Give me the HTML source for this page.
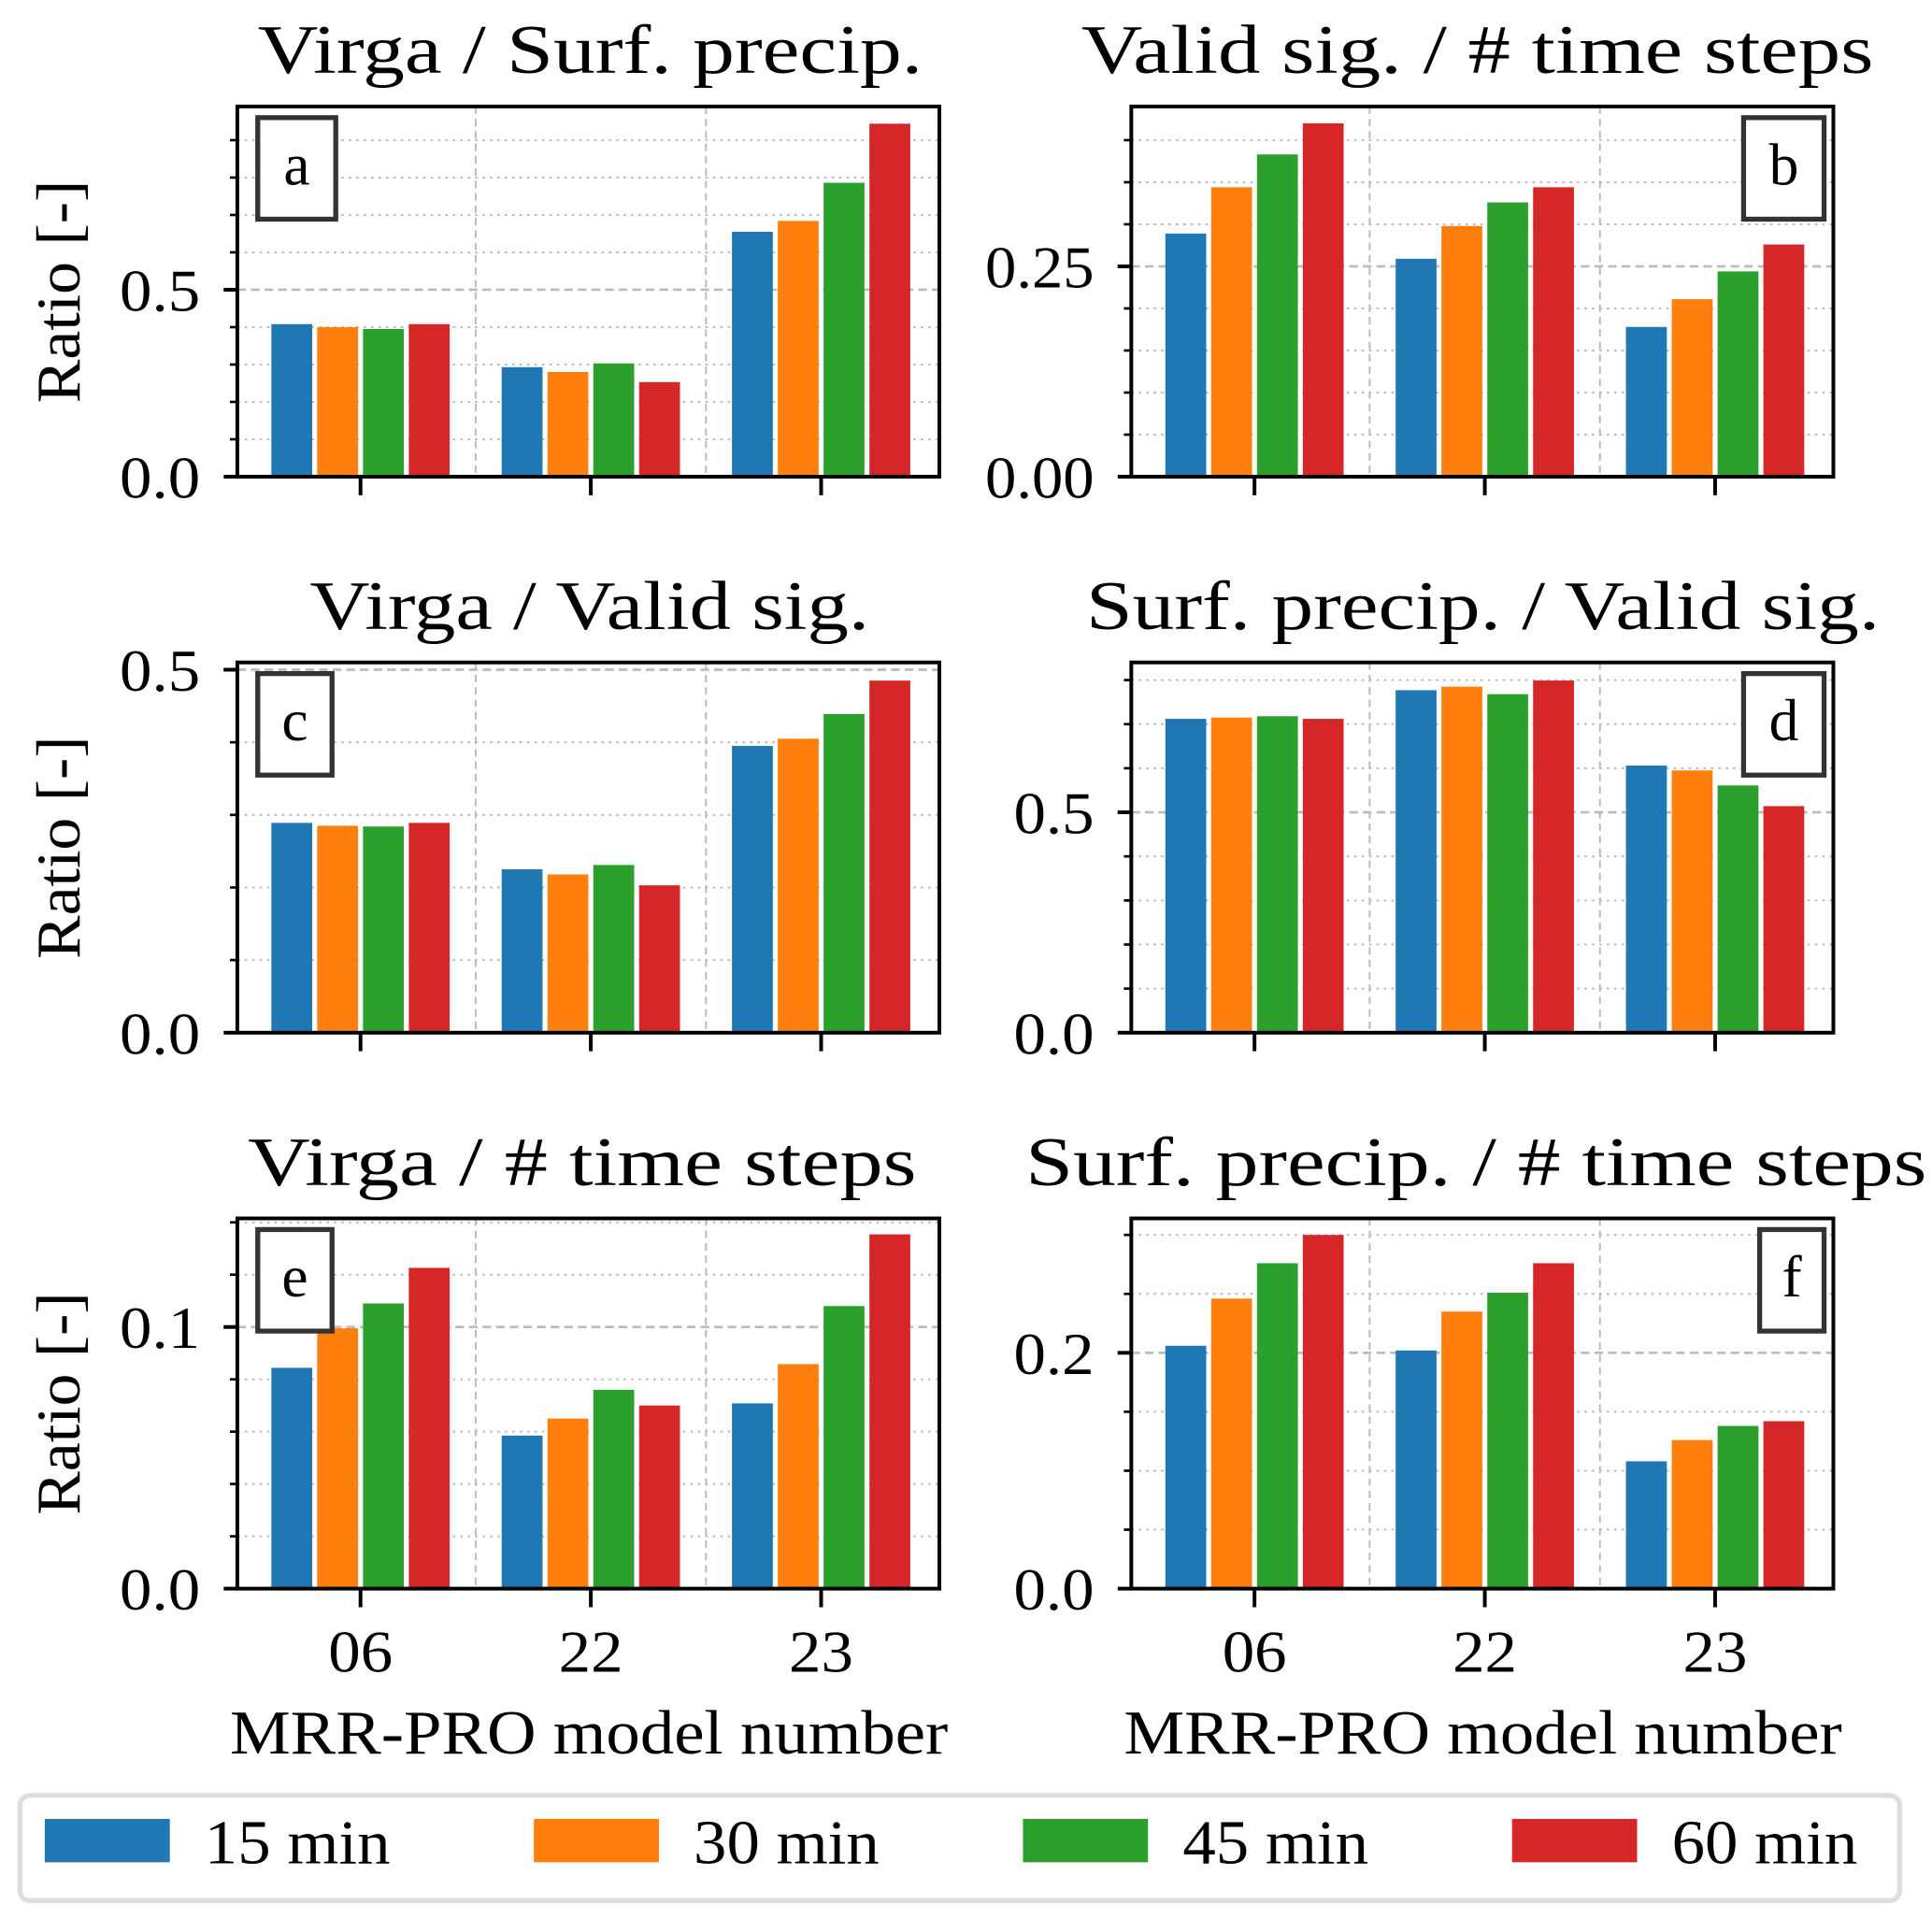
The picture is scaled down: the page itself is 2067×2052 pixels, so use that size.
<!DOCTYPE html>
<html><head><meta charset="utf-8"><style>
html,body{margin:0;padding:0;background:#fff;}
svg{display:block;font-family:"Liberation Serif",serif;}
</style></head><body>
<svg id="fig" width="2067" height="2052" viewBox="0 0 1560 1549" xmlns="http://www.w3.org/2000/svg"></svg>
<script>
const categories = ["06","22","23"];
const seriesNames = ["15 min","30 min","45 min","60 min"];
const colors = ["#1f77b4","#ff7f0e","#2ca02c","#d62728"];
// panel values [category][series]
const valuesA = [[0.408,0.400,0.395,0.408],[0.293,0.280,0.303,0.253],[0.655,0.684,0.786,0.944]];
const valuesB = [[0.289,0.344,0.383,0.420],[0.259,0.298,0.326,0.344],[0.178,0.211,0.244,0.276]];
const valuesC = [[0.289,0.285,0.284,0.289],[0.225,0.218,0.231,0.203],[0.395,0.405,0.439,0.485]];
const valuesD = [[0.712,0.715,0.718,0.712],[0.777,0.785,0.768,0.799],[0.606,0.595,0.561,0.514]];
const valuesE = [[0.0844,0.0995,0.109,0.1226],[0.0585,0.065,0.076,0.070],[0.0708,0.0858,0.108,0.1354]];
const valuesF = [[0.206,0.246,0.276,0.300],[0.202,0.235,0.251,0.276],[0.108,0.126,0.138,0.142]];
const ticksA = ["0.0","0.5"], ticksB = ["0.00","0.25"], ticksC = ["0.0","0.5"];
const ticksD = ["0.0","0.5"], ticksE = ["0.0","0.1"], ticksF = ["0.0","0.2"];

const NS="http://www.w3.org/2000/svg";
const svg=document.getElementById('fig');
function mk(tag,attrs,parent){const e=document.createElementNS(NS,tag);for(const k in attrs)e.setAttribute(k,attrs[k]);(parent||svg).appendChild(e);return e;}

const panels=[
 {id:'a',title:'Virga / Surf.  precip.',tx0:208,tx1:745,vals:valuesA,ticks:ticksA,ymax:0.99,minor:0.1,x0:191.5,y0:86,lx:208,lw:63,xlab:false,ylab:true},
 {id:'b',title:'Valid sig.  / # time steps',tx0:873,tx1:1513,vals:valuesB,ticks:ticksB,ymax:0.44,minor:0.05,x0:913.5,y0:86,lx:1408,lw:65,xlab:false,ylab:false},
 {id:'c',title:'Virga / Valid sig.',tx0:250,tx1:702,vals:valuesC,ticks:ticksC,ymax:0.51,minor:0.1,x0:191.5,y0:535,lx:208,lw:60,xlab:false,ylab:true},
 {id:'d',title:'Surf.  precip.  / Valid sig.',tx0:877,tx1:1518,vals:valuesD,ticks:ticksD,ymax:0.84,minor:0.1,x0:913.5,y0:535,lx:1408,lw:65,xlab:false,ylab:false},
 {id:'e',title:'Virga / # time steps',tx0:200,tx1:740,vals:valuesE,ticks:ticksE,ymax:0.1415,minor:0.02,x0:191.5,y0:984,lx:208,lw:60,xlab:true,ylab:true},
 {id:'f',title:'Surf.  precip.  / # time steps',tx0:828,tx1:1556,vals:valuesF,ticks:ticksF,ymax:0.314,minor:0.05,x0:913.5,y0:984,lx:1421,lw:52,xlab:true,ylab:false}
];
const W=567,H=299;
panels.forEach(p=>{
 const g=mk('g',{});
 
 
 const x0=p.x0,y0=p.y0,yb=y0+H;
 const ys=v=>yb-v/p.ymax*H;
 const xs=c=>x0+99.5+c*186;
 for(let v=p.minor;v<p.ymax-1e-9;v+=p.minor){
   const y=ys(v);
   const isMajor=p.ticks.some(t=>Math.abs(parseFloat(t)-v)<1e-9);
   mk('line',{x1:x0,x2:x0+W,y1:y,y2:y,stroke:'#bbb','stroke-width':isMajor?2:1.5,'stroke-dasharray':isMajor?'7,4':'2,4'},g);
   mk('line',{x1:x0-(isMajor?11:6),x2:x0,y1:y,y2:y,stroke:'#000','stroke-width':2},g);
 }
 [0.5,1.5].forEach(c=>{const x=xs(c);mk('line',{x1:x,x2:x,y1:y0,y2:yb,stroke:'#bbb','stroke-width':1.5,'stroke-dasharray':'6,4'},g);});
 p.vals.forEach((row,ci)=>row.forEach((v,si)=>{
   const cx=xs(ci)+(si-1.5)*37;
   const r=mk('rect',{x:cx-16.5,y:ys(v),width:33,height:yb-ys(v),fill:colors[si]},g);
   
   
 }));
 p.ticks.forEach(t=>{
   const y=ys(parseFloat(t));
   mk('line',{x1:x0-11,x2:x0,y1:y,y2:y,stroke:'#000','stroke-width':3},g);
   const tw=t.length===4?88:65;
   const tx=mk('text',{x:x0-30-tw,y:y+17,'font-size':48,textLength:tw,lengthAdjust:'spacingAndGlyphs'},g);tx.textContent=t;
   
   
 });
 categories.forEach((c,ci)=>{
   const x=xs(ci);
   mk('line',{x1:x,x2:x,y1:yb,y2:yb+15,stroke:'#000','stroke-width':3},g);
   if(p.xlab){const t=mk('text',{x:x-26,y:yb+67,'font-size':48,textLength:52,lengthAdjust:'spacingAndGlyphs'},g);t.textContent=c;
     
     }
 });
 mk('rect',{x:x0,y:y0,width:W,height:H,fill:'none',stroke:'#000','stroke-width':3},g);
 const tt=mk('text',{x:p.tx0,y:y0-27,'font-size':56,'xml:space':'preserve',textLength:p.tx1-p.tx0,lengthAdjust:'spacingAndGlyphs'},g);
 tt.textContent=p.title;
 
 
 mk('rect',{x:p.lx,y:y0+9,width:p.lw,height:82,fill:'#fff',stroke:'#333','stroke-width':4},g);
 const lt=mk('text',{x:p.lx+p.lw/2,y:y0+63,'text-anchor':'middle','font-size':48},g);lt.textContent=p.id;
 
 
 if(p.ylab){const yl=mk('text',{x:-90,y:0,'font-size':50,textLength:180,lengthAdjust:'spacingAndGlyphs',transform:`translate(64,${y0+H/2}) rotate(-90)`},g);
   yl.textContent='Ratio [-]';
   
   }
 if(p.xlab){const xl=mk('text',{x:x0-6,y:yb+133,'font-size':50,textLength:580,lengthAdjust:'spacingAndGlyphs'},g);
   xl.textContent='MRR-PRO model number';
   
   }
});
const lg=mk('g',{});


mk('rect',{x:16,y:1450,width:1518,height:85,rx:8,fill:'#fff',stroke:'#ddd','stroke-width':4},lg);
seriesNames.forEach((n,i)=>{
 const x=36+i*395;
 const r=mk('rect',{x:x,y:1469,width:101,height:35,fill:colors[i]},lg);
 
 
 const t=mk('text',{x:x+129,y:1505,'font-size':50,textLength:150,lengthAdjust:'spacingAndGlyphs'},lg);t.textContent=n;
 
 
});
</script>
</body></html>
